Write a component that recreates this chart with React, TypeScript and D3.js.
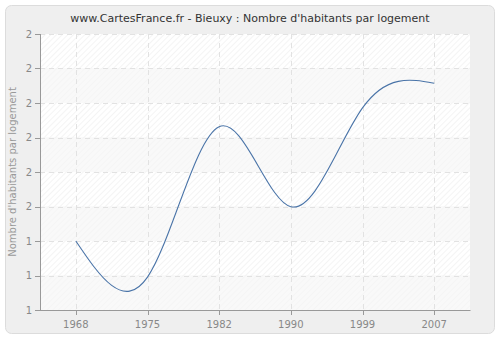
import React from "react";
import * as d3 from "d3";

const years = ["1968", "1975", "1982", "1990", "1999", "2007"];
const values = [1.35, 1.167, 1.93, 1.524, 2.025, 2.15];
const yTickValues = [1.0, 1.175, 1.35, 1.525, 1.7, 1.875, 2.05, 2.225, 2.4];
const yTickLabels = ["1", "1", "1", "2", "2", "2", "2", "2", "2"];
const title = "www.CartesFrance.fr - Bieuxy : Nombre d'habitants par logement";
const yTitle = "Nombre d'habitants par logement";

export default function App() {
  const W = 500, H = 340;
  const left = 40, right = 470, top = 34, bottom = 310;
  const x = d3.scaleBand<string>().domain(years).range([left, right]);
  const y = d3.scaleLinear().domain([1.0, 2.4]).range([bottom, top]);
  const cx = (d: string) => (x(d) as number) + x.bandwidth() / 2;
  const line = d3
    .line<number>()
    .x((_, i) => cx(years[i]))
    .y((v) => y(v))
    .curve(d3.curveNatural);
  const font = "DejaVu Sans, Verdana, sans-serif";
  return (
    <svg
      width={W}
      height={H}
      style={{ position: "absolute", left: 0, top: 0 }}
    >
      <defs>
        <pattern id="hatch" width="4" height="4" patternUnits="userSpaceOnUse" patternTransform="rotate(45)">
          <rect width="4" height="4" fill="#ffffff" />
          <line x1="0" y1="0" x2="0" y2="4" stroke="#eeeeee" strokeWidth="1.2" />
        </pattern>
        <pattern id="hatch2" width="4" height="4" patternUnits="userSpaceOnUse" patternTransform="rotate(45)">
          <rect width="4" height="4" fill="#f9f9f9" />
          <line x1="0" y1="0" x2="0" y2="4" stroke="#f3f3f3" strokeWidth="1.2" />
        </pattern>
      </defs>
      <rect x={0} y={0} width={W} height={H} fill="#ffffff" />
      <rect x={5.5} y={5.5} width={489} height={328} rx={6} fill="#efefef" stroke="#dcdcdc" />
      <text x={250} y={22} textAnchor="middle" fontFamily={font} fontSize={11} fill="#333">
        {title}
      </text>
      {yTickValues.slice(0, -1).map((v, i) => (
        <rect key={"b" + i} x={left} y={y(yTickValues[i + 1])} width={right - left}
          height={y(v) - y(yTickValues[i + 1])} fill={i % 2 === 1 ? "url(#hatch)" : "url(#hatch2)"} />
      ))}
      {yTickValues.map((v, i) => (
        <line key={"gy" + i} x1={left} x2={right} y1={Math.round(y(v)) + 0.5} y2={Math.round(y(v)) + 0.5}
          stroke="#e2e2e2" strokeDasharray="5,4" />
      ))}
      {years.map((yr) => (
        <line key={"gx" + yr} x1={Math.round(cx(yr)) + 0.5} x2={Math.round(cx(yr)) + 0.5} y1={top} y2={bottom}
          stroke="#e2e2e2" strokeDasharray="5,4" />
      ))}
      <path d={line(values) || ""} fill="none" stroke="#4a74a8" strokeWidth={1.1} />
      <line x1={left + 0.5} x2={left + 0.5} y1={top} y2={bottom + 0.5} stroke="#999" />
      <line x1={left} x2={right + 0.5} y1={bottom + 0.5} y2={bottom + 0.5} stroke="#999" />
      {yTickValues.map((v, i) => (
        <g key={"ty" + i}>
          <line x1={left - 5} x2={left} y1={Math.round(y(v)) + 0.5} y2={Math.round(y(v)) + 0.5} stroke="#999" />
          <text x={left - 8} y={y(v)} dy="0.35em" textAnchor="end" fontFamily={font} fontSize={10} fill="#888">
            {yTickLabels[i]}
          </text>
        </g>
      ))}
      {years.map((yr) => (
        <g key={"tx" + yr}>
          <line x1={Math.round(cx(yr)) + 0.5} x2={Math.round(cx(yr)) + 0.5} y1={bottom} y2={bottom + 5} stroke="#999" />
          <text x={cx(yr)} y={bottom + 18} textAnchor="middle" fontFamily={font} fontSize={10} fill="#888">
            {yr}
          </text>
        </g>
      ))}
      <text transform={`translate(16,${(top + bottom) / 2}) rotate(-90)`} textAnchor="middle"
        fontFamily={font} fontSize={10} fill="#999">
        {yTitle}
      </text>
    </svg>
  );
}
